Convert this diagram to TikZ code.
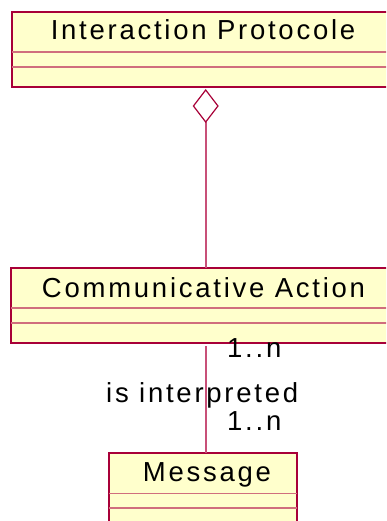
\documentclass[tikz,border=0pt]{standalone}
\usepackage{fontspec}
\setmainfont{Liberation Sans}[LetterSpace=10]
\usetikzlibrary{arrows.meta}
\definecolor{bordc}{RGB}{168,0,56}
\definecolor{sepc}{RGB}{208,110,125}
\definecolor{fillc}{RGB}{255,255,204}
\definecolor{linec}{RGB}{200,80,120}
\tikzset{
  cls/.style={draw=bordc, fill=fillc, line width=1.3pt, rectangle, inner sep=0pt, outer sep=0pt, anchor=north west},
  sepline/.style={draw=sepc, line width=1.2pt},
  lbl/.style={inner sep=0pt, anchor=base, font=\fontsize{27.5}{32}\selectfont},
  assoc/.style={draw=linec, line width=1.6pt},
}
\begin{document}
\begin{tikzpicture}[x=1pt,y=-1pt]
\useasboundingbox (0,0) rectangle (386,521);
\fill[white] (0,0) rectangle (386,521);
\clip (0,0) rectangle (386,521);
% boxes
\node[cls, minimum width=390pt, minimum height=75pt] (ip) at (12,12) {};
\draw[sepline] ([yshift=-40pt]ip.north west) -- ([yshift=-40pt]ip.north east);
\draw[sepline] ([yshift=-55pt]ip.north west) -- ([yshift=-55pt]ip.north east);
\node[lbl] (ipt) at (203,40) {Interaction Protocole};

\node[cls, minimum width=392pt, minimum height=75pt] (ca) at (11,268) {};
\draw[sepline] ([yshift=-40pt]ca.north west) -- ([yshift=-40pt]ca.north east);
\draw[sepline] ([yshift=-55pt]ca.north west) -- ([yshift=-55pt]ca.north east);
\node[lbl] (cat) at (203.5,297) {Communicative Action};

\node[cls, minimum width=188pt, minimum height=80pt] (msg) at (109,453) {};
\draw[sepline] ([yshift=-40.5pt]msg.north west) -- ([yshift=-40.5pt]msg.north east);
\draw[sepline] ([yshift=-55pt]msg.north west) -- ([yshift=-55pt]msg.north east);
\node[lbl] (msgt) at (207,481) {Message};

% connectors
\coordinate (ax) at (205.7,0);
\draw[assoc, {Diamond[open,length=34pt,width=26pt,color=bordc,line width=1.2pt]}-] ([yshift=-2pt]ip.south -| ax) -- (ca.north -| ax);
\draw[assoc] ([yshift=-3pt]ca.south -| ax) -- (msg.north -| ax);

% labels
\node[lbl, anchor=base west] (m1) at (227,357) {1..n};
\node[lbl, anchor=base west] (rl) at (106,402) {is interpreted};
\node[lbl, anchor=base west] (m2) at (227,430) {1..n};
\end{tikzpicture}
\end{document}
